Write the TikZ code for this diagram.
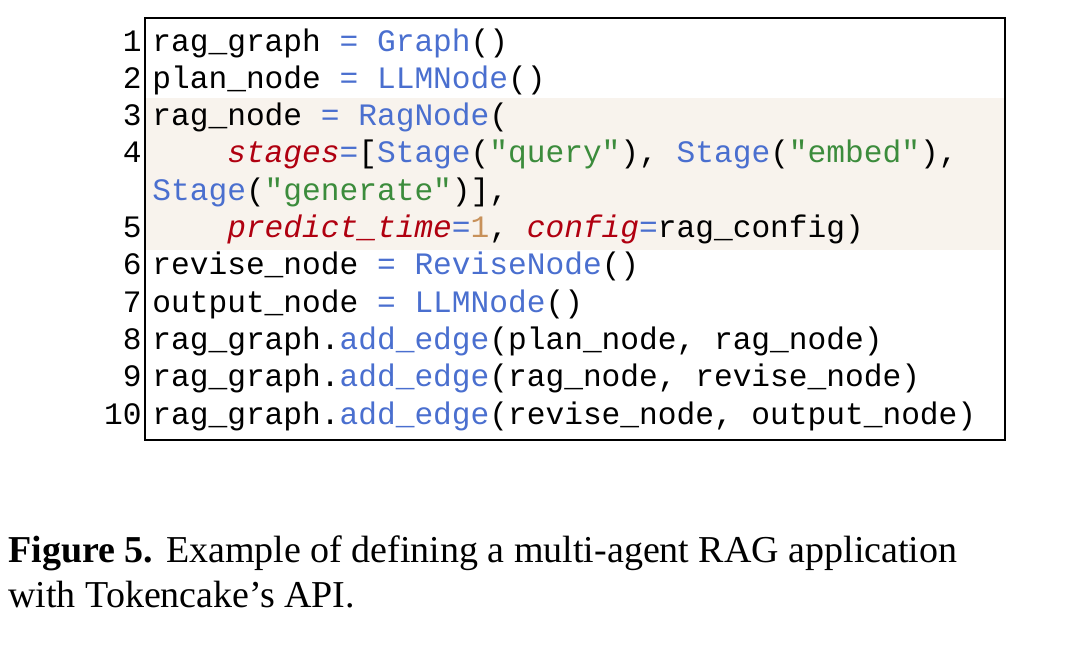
\documentclass[tikz,border=0pt]{standalone}
\usepackage{fontspec}
\setmonofont{Liberation Mono}
\newfontfamily\capfont{Liberation Serif}
\definecolor{fnblue}{HTML}{4A6FCF}
\definecolor{strgreen}{HTML}{3C8C3C}
\definecolor{kwred}{HTML}{B00010}
\definecolor{numbrown}{HTML}{C8915A}
\definecolor{hlbeige}{HTML}{F8F3ED}
\newcommand{\fn}[1]{\textcolor{fnblue}{#1}}
\newcommand{\str}[1]{\textcolor{strgreen}{#1}}
\newcommand{\kw}[1]{\textcolor{kwred}{\textit{#1}}}
\newcommand{\nm}[1]{\textcolor{numbrown}{#1}}
\newcommand{\ind}{\hphantom{0000}}
\begin{document}
\begin{tikzpicture}[x=1pt,y=1pt,
  code/.style={anchor=base west,inner sep=0pt,font=\fontsize{15.6}{18}\ttfamily},
  lnum/.style={anchor=base east,inner sep=0pt,font=\fontsize{15.6}{18}\ttfamily},
  captext/.style={anchor=base west,inner sep=0pt,font=\fontsize{19}{22}\capfont}]
\useasboundingbox (0,0) rectangle (540,-322);
% highlighted lines 3--5
\fill[hlbeige] (73,-49) rectangle (502.5,-125);
\draw[line width=0.8pt] (72.5,-9) rectangle (502.5,-220);

% code rows
\node[code] (r0) at (76,-25.5) {rag\_graph \fn{=} \fn{Graph}()};
\node[code] (r1) at (76,-44.15) {plan\_node \fn{=} \fn{LLMNode}()};
\node[code] (r2) at (76,-62.8) {rag\_node \fn{=} \fn{RagNode}(};
\node[code] (r3) at (76,-81.45) {\ind\kw{stages}\fn{=}[\fn{Stage}(\str{"query"}), \fn{Stage}(\str{"embed"}),};
\node[code] (r4) at (76,-100.1) {\fn{Stage}(\str{"generate"})],};
\node[code] (r5) at (76,-118.75) {\ind\kw{predict\_time}\fn{=}\nm{1}, \kw{config}\fn{=}rag\_config)};
\node[code] (r6) at (76,-137.4) {revise\_node \fn{=} \fn{ReviseNode}()};
\node[code] (r7) at (76,-156.05) {output\_node \fn{=} \fn{LLMNode}()};
\node[code] (r8) at (76,-174.7) {rag\_graph.\fn{add\_edge}(plan\_node, rag\_node)};
\node[code] (r9) at (76,-193.35) {rag\_graph.\fn{add\_edge}(rag\_node, revise\_node)};
\node[code] (r10) at (76,-212) {rag\_graph.\fn{add\_edge}(revise\_node, output\_node)};

% line numbers
\foreach \n/\r in {1/0,2/1,3/2,4/3,5/5,6/6,7/7,8/8,9/9,10/10}
  \node[lnum] (n\n) at (71,-25.5-18.65*\r) {\n};

% caption
\node[captext] (cap1) at (4,-281) {\textbf{Figure 5.} Example of defining a multi-agent RAG application};
\node[captext] (cap2) at (4,-303.5) {with Tokencake’s API.};
\end{tikzpicture}
\end{document}
